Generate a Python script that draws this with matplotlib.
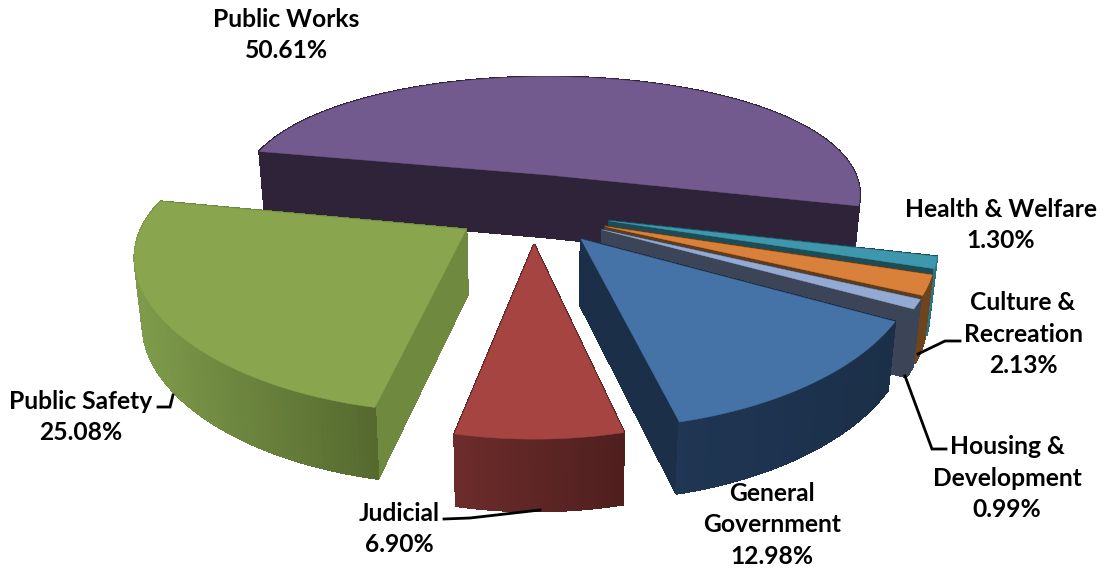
import numpy as np
import matplotlib
matplotlib.use("Agg")
import matplotlib.pyplot as plt

plt.rcParams["font.family"] = ["Lato", "DejaVu Sans"]

# Slices run clockwise from the back left of the pie
names = ["Public\u00a0Works", "Health\u00a0&\u00a0Welfare", "Culture &\nRecreation",
         "Housing &\nDevelopment", "General\nGovernment", "Judicial", "Public\u00a0Safety"]
shares = [50.61, 1.30, 2.13, 0.99, 12.98, 6.90, 25.08]

top_colors = ["#725A8F", "#3F97AE", "#D9813B", "#94AAD3", "#4573A7", "#A64442", "#89A54E"]
cut_colors = ["#2E2339", "#1B4C58", "#623A14", "#3B4557", "#1B2F48", "#5E2524", "#6F8A3F"]
wall_left = ["#2E2339", "#2B7385", "#6E441A", "#3B4557", "#1F3654", "#6C2C2B", "#7E9B4A"]
wall_right = ["#2E2339", "#2B7385", "#6E441A", "#3B4557", "#1B2F48", "#4E1F1E", "#55692F"]

# small per-slice offsets on top of the common explode, in pixels
nudges = [(-1, 0), (-4, 4), (-5, 6), (-5, 6), (-3, 3), (0, 1), (4, 3)]

label_pos = [(286, 35), (1001, 225), (1023, 334), (1007, 478), (772, 525), (399, 529), (81, 417)]
leaders = [
    [(918, 354), (945, 341), (960, 341)],
    [(905, 376), (932, 449), (946, 449)],
    [(444, 519), (470, 518), (540, 510)],
    [(158, 407), (170, 407), (173, 395)],
]

# Ground plane projection
CX, CY = 533, 207
RX, RY = 318, 132.6
PERSP_X, PERSP_Y = 0.157, 0.22
EXPLODE = 0.26
START = -78.0
DEPTH = 64


def project(gx, gy, bottom=False):
    x = RX * gx / (1 - PERSP_X * gy)
    y = RY * gy / (1 - PERSP_Y * gy)
    if bottom:
        return CX + 0.98 * x, CY + y + DEPTH * (1 + 0.1 * gy)
    return CX + x, CY + y


def mix(a, b, t):
    ca = np.array(matplotlib.colors.to_rgb(a))
    cb = np.array(matplotlib.colors.to_rgb(b))
    return ca + (cb - ca) * t


def draw_slice(ax, t0, t1, i):
    mid = np.radians((t0 + t1) / 2)
    ox, oy = EXPLODE * np.sin(mid), -EXPLODE * np.cos(mid)
    th = np.radians(np.linspace(t0, t1, max(int(t1 - t0), 6)))
    ex = ox + np.sin(th)
    ey = oy - np.cos(th)
    dx, dy = nudges[i]

    # radial cut faces
    for k in (0, -1):
        xs_t, ys_t = project(np.array([ox, ex[k]]), np.array([oy, ey[k]]))
        xs_b, ys_b = project(np.array([ox, ex[k]]), np.array([oy, ey[k]]), bottom=True)
        ax.fill(np.r_[xs_t, xs_b[::-1]] + dx, np.r_[ys_t, ys_b[::-1]] + dy,
                color=cut_colors[i], lw=1, antialiased=False, zorder=1)

    # outer wall as narrow strips so the shade can change along it
    xt, yt = project(ex, ey)
    xb, yb = project(ex, ey, bottom=True)
    xt, xb, yt, yb = xt + dx, xb + dx, yt + dy, yb + dy
    x_lo, x_hi = xt.min(), xt.max()
    for k in range(len(th) - 1):
        shade = mix(wall_left[i], wall_right[i], ((xt[k] + xt[k + 1]) / 2 - x_lo) / max(x_hi - x_lo, 1))
        ax.fill([xt[k], xt[k + 1], xb[k + 1], xb[k]], [yt[k], yt[k + 1], yb[k + 1], yb[k]],
                color=shade, lw=1, antialiased=False, zorder=1)

    # top face
    px, py = project(np.r_[ox, ex], np.r_[oy, ey])
    ax.fill(px + dx, py + dy, color=top_colors[i], lw=0.3, zorder=1)


fig = plt.figure(figsize=(11.06, 5.73), dpi=100)
ax = fig.add_axes([0, 0, 1, 1])
ax.set_xlim(0, 1106)
ax.set_ylim(573, 0)
ax.axis("off")

edges = START + np.r_[0, np.cumsum(shares)] * 360 / 100

# Paint back to front so nearer slices cover farther ones
for i in [0, 1, 2, 3, 4, 6, 5]:
    draw_slice(ax, edges[i], edges[i + 1], i)

for name, share, pos in zip(names, shares, label_pos):
    ax.text(pos[0], pos[1], f"{name}\n{share:.2f}%", ha="center", va="center",
            fontsize=17.7, fontweight="bold", color="black", linespacing=1.46, zorder=5)

for pts in leaders:
    ax.plot(*zip(*pts), color="black", lw=2, zorder=4, solid_joinstyle="miter")

fig.savefig("out.png", dpi=100)
